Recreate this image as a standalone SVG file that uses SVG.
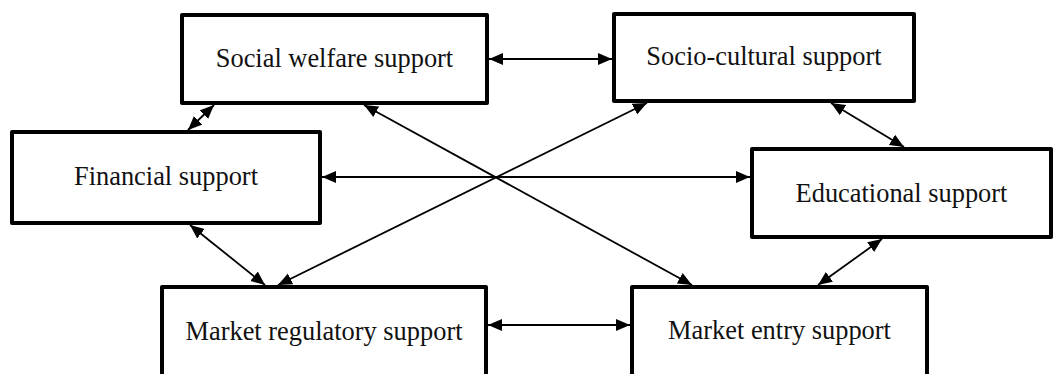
<svg xmlns="http://www.w3.org/2000/svg" width="1057" height="374" viewBox="0 0 1057 374">
<style>
.box{fill:#fff;stroke:#000;stroke-width:4;stroke-linejoin:round}
.lbl{font-family:"Liberation Serif","Times New Roman",serif;font-size:26.4px;fill:#111;text-anchor:middle}
.con{stroke:#000;stroke-width:1.8;fill:none;marker-start:url(#ah);marker-end:url(#ah)}
</style>
<defs>
<marker id="ah" markerUnits="userSpaceOnUse" markerWidth="15" markerHeight="13" refX="14" refY="6.5" orient="auto-start-reverse" viewBox="0 0 15 13">
<path d="M0,0.5 L14,6.5 L0,12.5 z" fill="#000"/>
</marker>
</defs>
<rect width="1057" height="374" fill="#fff"/>
<g id="connectors">
<line class="con" x1="489" y1="59" x2="612" y2="59"/>
<line class="con" x1="214" y1="105" x2="188" y2="130"/>
<line class="con" x1="364" y1="105" x2="692" y2="285"/>
<line class="con" x1="647" y1="103" x2="278" y2="285"/>
<line class="con" x1="190" y1="225" x2="265" y2="285"/>
<line class="con" x1="322" y1="177" x2="750" y2="177"/>
<line class="con" x1="831" y1="103" x2="904" y2="147"/>
<line class="con" x1="882" y1="239" x2="818" y2="285"/>
<line class="con" x1="488" y1="325" x2="630" y2="325"/>
</g>
<g id="social-welfare">
<rect class="box" x="182" y="15" width="305" height="88"/>
<text class="lbl" x="334.5" y="67">Social welfare support</text>
</g>
<g id="socio-cultural">
<rect class="box" x="614" y="14" width="300" height="87"/>
<text class="lbl" x="764" y="65">Socio-cultural support</text>
</g>
<g id="financial">
<rect class="box" x="12" y="132" width="308" height="91"/>
<text class="lbl" x="166" y="185">Financial support</text>
</g>
<g id="educational">
<rect class="box" x="752" y="149" width="299" height="88"/>
<text class="lbl" x="901.5" y="202">Educational support</text>
</g>
<g id="market-regulatory">
<rect class="box" x="162" y="287" width="324" height="100"/>
<text class="lbl" x="324" y="340">Market regulatory support</text>
</g>
<g id="market-entry">
<rect class="box" x="632" y="287" width="295" height="100"/>
<text class="lbl" x="779.5" y="339">Market entry support</text>
</g>
</svg>
